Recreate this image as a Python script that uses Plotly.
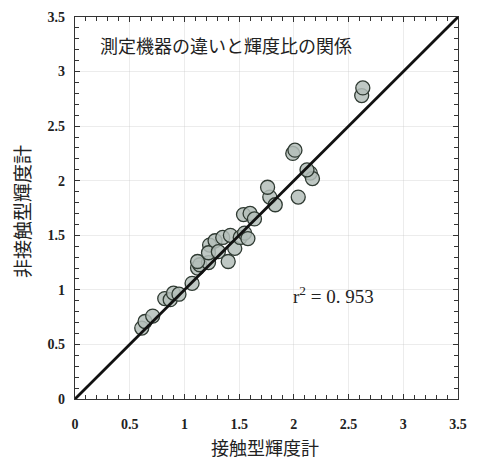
import plotly.graph_objects as go

# 接触型輝度計 (x) vs 非接触型輝度計 (y)
contact = [0.61, 0.64, 0.71, 0.82, 0.87, 0.90, 0.95, 1.07, 1.12, 1.14, 1.22, 1.12,
           1.23, 1.22, 1.28, 1.31, 1.35, 1.40, 1.42, 1.46, 1.51, 1.55, 1.58, 1.54,
           1.60, 1.64, 1.78, 1.76, 1.83, 1.99, 2.01, 2.04, 2.15, 2.17, 2.12, 2.62, 2.63]
noncontact = [0.65, 0.71, 0.76, 0.92, 0.91, 0.97, 0.96, 1.06, 1.20, 1.23, 1.25, 1.26,
              1.41, 1.34, 1.45, 1.35, 1.48, 1.26, 1.50, 1.38, 1.48, 1.52, 1.47, 1.69,
              1.70, 1.65, 1.85, 1.94, 1.78, 2.25, 2.28, 1.85, 2.07, 2.02, 2.10, 2.78, 2.85]
line_x = [0, 3.5]
line_y = [0, 3.5]
tick_vals = [0, 0.5, 1, 1.5, 2, 2.5, 3, 3.5]
tick_text = ["0", "0.5", "1", "1.5", "2", "2.5", "3", "3.5"]

title_text = "測定機器の違いと輝度比の関係"
x_title = "接触型輝度計"
y_title = "非接触型輝度計"
r2_text = "r<sup>2</sup> = 0. 953"

fig = go.Figure()
fig.add_trace(go.Scatter(
    x=contact, y=noncontact, mode="markers",
    marker=dict(size=14, color="rgba(180,190,186,0.85)",
                line=dict(color="#2f3a32", width=1.3)),
    showlegend=False))
fig.add_trace(go.Scatter(
    x=line_x, y=line_y, mode="lines",
    line=dict(color="#111111", width=2.8), showlegend=False))

serif = "Liberation Serif"
cjk = "Noto Sans CJK JP"
axis_common = dict(
    range=[0, 3.5], tickvals=tick_vals, ticktext=tick_text,
    ticks="inside", ticklen=5, tickwidth=1, tickcolor="#333",
    minor=dict(ticks="inside", ticklen=4, dtick=0.1, tickcolor="#333", showgrid=False),
    showline=True, linecolor="#333", linewidth=1.2, mirror="allticks",
    showgrid=True, gridcolor="rgba(200,200,200,0.35)", gridwidth=1,
    zeroline=False, automargin=False,
    tickfont=dict(family=serif, size=14, color="#222", weight="bold"),
)
fig.update_xaxes(**axis_common, ticklabelstandoff=12)
fig.update_yaxes(**axis_common, ticklabelstandoff=6)

fig.add_annotation(x=0.496, y=-0.125, xref="paper", yref="paper", xanchor="center", yanchor="middle",
                   text=x_title, showarrow=False,
                   font=dict(family=cjk, size=18, color="#222"))
fig.add_annotation(x=-0.138, y=0.49, xref="paper", yref="paper", xanchor="center", yanchor="middle",
                   text=y_title, showarrow=False, textangle=-90,
                   font=dict(family=cjk, size=19, color="#222"))
fig.add_annotation(x=0.06, y=0.927, xref="paper", yref="paper", xanchor="left", yanchor="middle",
                   text=title_text, showarrow=False,
                   font=dict(family=cjk, size=18, color="#222"))
fig.add_annotation(x=1.97, y=0.95, xref="x", yref="y", xanchor="left", yanchor="middle",
                   text=r2_text, showarrow=False,
                   font=dict(family=serif, size=19, color="#222"))

fig.update_layout(
    width=473, height=451,
    margin=dict(l=67, r=23, t=9, b=60),
    plot_bgcolor="white", paper_bgcolor="white",
)
fig.write_html("out.html")
